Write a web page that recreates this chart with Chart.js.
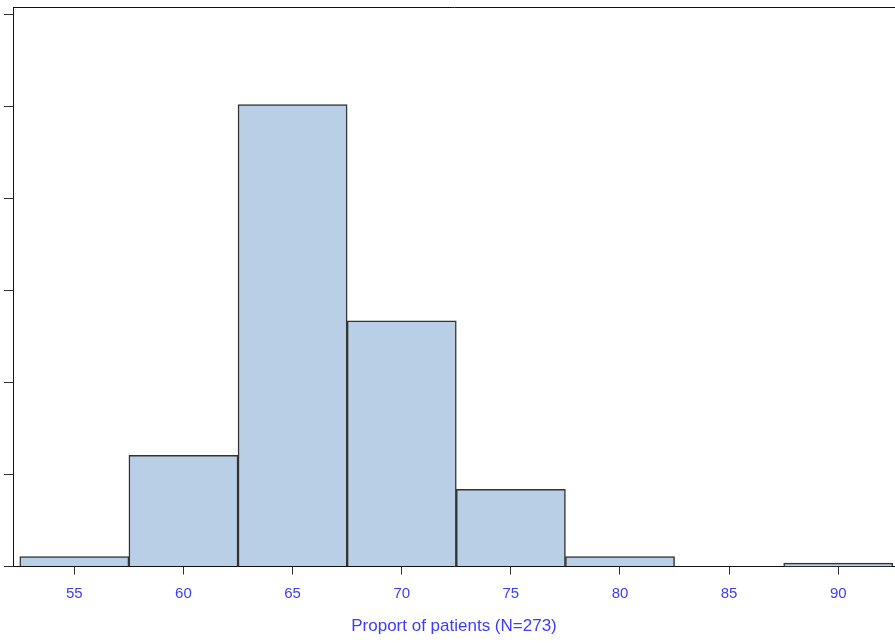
<!DOCTYPE html>
<html>
<head>
<meta charset="utf-8">
<script src="https://cdn.jsdelivr.net/npm/chart.js@4/dist/chart.umd.min.js"></script>
<style>
  html, body { margin: 0; padding: 0; background: #fff; }
  #wrap { width: 895px; height: 643px; }
</style>
</head>
<body>
<div id="wrap"><canvas id="hist"></canvas></div>
<script>
// bin midpoints (width 5) and percent of patients in each bin
const binMids = [55, 60, 65, 70, 75, 80, 85, 90]
const binPercent = [1.1, 12.1, 50.2, 26.7, 8.4, 1.1, 0, 0.37]
const xTicks = [55, 60, 65, 70, 75, 80, 85, 90]
const yTicks = [0, 10, 20, 30, 40, 50, 60]
const xTitle = "Proport of patients (N=273)"

const labelBlue = "#3c3cff"
const axisGrey = "#333333"

let histData = binMids.map((m, i) => ({ x: m, y: binPercent[i] }))

new Chart(document.getElementById("hist"), {
    type: 'bar',
    data: {
        datasets: [{
            data: histData,
            backgroundColor: '#b9cfe5',
            borderColor: '#333333',
            borderWidth: 1.5,
            borderSkipped: 'bottom',
            barPercentage: 1,
            categoryPercentage: 1
        }]
    },
    options: {
        responsive: true,
        maintainAspectRatio: false,
        animation: false,
        layout: {
            padding: { left: 4, right: 0, top: -1, bottom: 6 }
        },
        plugins: {
            legend: { display: false },
            tooltip: { enabled: false }
        },
        scales: {
            x: {
                type: 'linear',
                position: 'bottom',
                min: 52.19,
                max: 92.6,
                offset: false,
                afterBuildTicks: function(scale) {
                    scale.ticks = xTicks.map(v => ({ value: v }))
                },
                grid: {
                    drawOnChartArea: false,
                    offset: false,
                    tickLength: 8,
                    color: axisGrey
                },
                border: { color: '#111', width: 1 },
                ticks: {
                    color: labelBlue,
                    font: { family: 'Liberation Sans, Arial', size: 15 },
                    padding: 10,
                    maxRotation: 0,
                    autoSkip: false
                },
                title: {
                    display: true,
                    text: xTitle,
                    color: labelBlue,
                    font: { family: 'Liberation Sans, Arial', size: 17 },
                    padding: { top: 4, bottom: 0 }
                }
            },
            xTop: {
                type: 'linear',
                position: 'top',
                min: 52.19,
                max: 92.6,
                offset: false,
                grid: { display: false },
                ticks: { display: false },
                border: { display: true, color: '#111', width: 1 }
            },
            y: {
                min: 0,
                max: 60.8,
                afterBuildTicks: function(scale) {
                    scale.ticks = yTicks.map(v => ({ value: v }))
                },
                grid: {
                    drawOnChartArea: false,
                    tickLength: 9,
                    color: axisGrey
                },
                border: { color: '#111', width: 1 },
                ticks: { display: false }
            }
        }
    }
})
</script>
</body>
</html>
